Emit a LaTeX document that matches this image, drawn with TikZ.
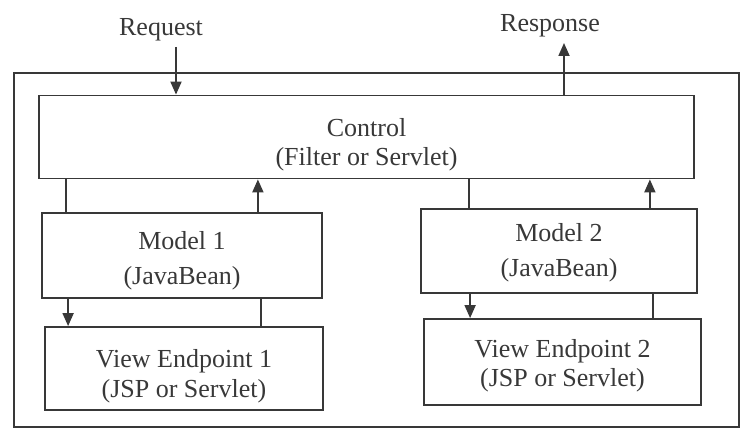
\documentclass[tikz,border=0pt]{standalone}
\usepackage{fontspec}
\setmainfont{Liberation Serif}
\usetikzlibrary{arrows.meta}
\definecolor{ink}{HTML}{383838}
\tikzset{
  box/.style={draw=ink, line width=1.8pt, rectangle, inner sep=0pt, align=center,
    text=ink, font=\fontsize{26}{29}\selectfont},
  tpos/.style 2 args={text height=#1pt, text depth=#2pt},
  lbl/.style={text=ink, font=\fontsize{26}{29}\selectfont, inner sep=0pt},
  conn/.style={draw=ink, line width=1.8pt},
  arr/.style={conn, -{Triangle[length=13pt,width=11pt]}},
}
\begin{document}
\begin{tikzpicture}[x=1pt,y=-1pt]
\useasboundingbox (0,0) rectangle (742,430);
\draw[ink, line width=1.6pt] (14,73) rectangle (739,427);
\node[box, minimum width=655pt, minimum height=83pt, tpos={64}{6}] (ctrl) at (366.5,137) {Control\\(Filter or Servlet)};
\node[box, minimum width=280pt, minimum height=85pt, font=\fontsize{26}{35}\selectfont, tpos={64}{6}] (m1) at (182,255.5) {Model 1\\(JavaBean)};
\node[box, minimum width=278pt, minimum height=83pt, tpos={63}{6}] (v1) at (184,368.5) {View Endpoint 1\\(JSP or Servlet)};
\node[box, minimum width=276pt, minimum height=84pt, font=\fontsize{26}{35}\selectfont, tpos={60}{9}] (m2) at (559,251) {Model 2\\(JavaBean)};
\node[box, minimum width=277pt, minimum height=86pt, tpos={58}{9}] (v2) at (562.5,362) {View Endpoint 2\\(JSP or Servlet)};
\node[lbl] (req) at (161,30) {Request};
\node[lbl] (resp) at (550,26) {Response};
\coordinate (reqs) at (176,47);
\coordinate (resps) at (564,43);
\draw[arr] (reqs) -- (reqs |- ctrl.north);
\draw[arr] (resps |- ctrl.north) -- (resps);
% model 1
\draw[conn] ([xshift=25pt]m1.north west) -- ([xshift=25pt]m1.north west |- ctrl.south);
\draw[arr] ([xshift=-65pt]m1.north east) -- ([xshift=-65pt]m1.north east |- ctrl.south);
\draw[arr] ([xshift=27pt]m1.south west) -- ([xshift=27pt]m1.south west |- v1.north);
\draw[conn] ([xshift=-62pt]m1.south east) -- ([xshift=-62pt]m1.south east |- v1.north);
% model 2
\draw[conn] ([xshift=49pt]m2.north west) -- ([xshift=49pt]m2.north west |- ctrl.south);
\draw[arr] ([xshift=-48pt]m2.north east) -- ([xshift=-48pt]m2.north east |- ctrl.south);
\draw[arr] ([xshift=50pt]m2.south west) -- ([xshift=50pt]m2.south west |- v2.north);
\draw[conn] ([xshift=-45pt]m2.south east) -- ([xshift=-45pt]m2.south east |- v2.north);
\end{tikzpicture}
\end{document}
